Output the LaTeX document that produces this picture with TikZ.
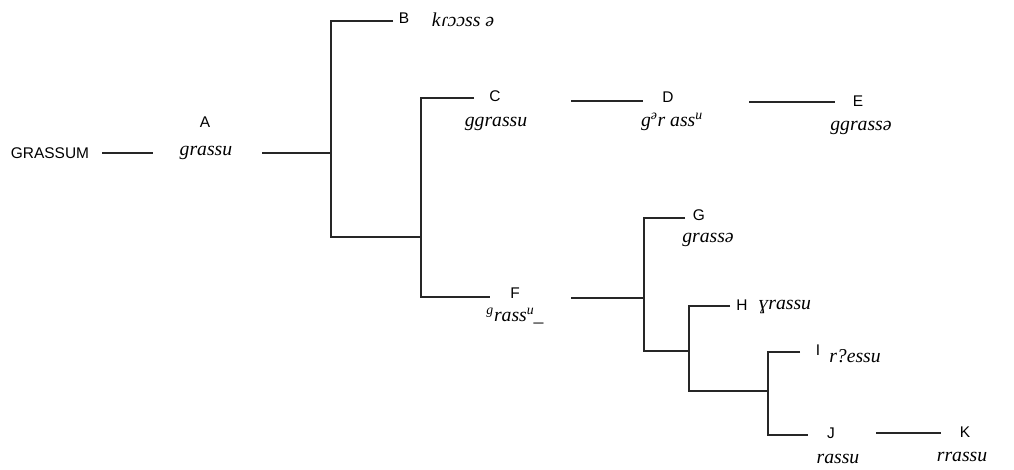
\documentclass[tikz,border=0pt]{standalone}
\usepackage{fontspec}
\setmainfont{Liberation Sans}
\newfontfamily\formfont{Liberation Serif}
\usetikzlibrary{positioning}
\tikzset{every picture/.style={line width=0.75pt}}

\begin{document}
\begin{tikzpicture}[
    x=0.025cm, y=-0.025cm,
    branch/.style={draw=black!85, line width=0.9pt},
    letter/.style={font=\fontsize{11}{13}\selectfont, inner sep=4pt},
    form/.style={font=\fontsize{14}{16}\selectfont\formfont\itshape, inner sep=2pt}
]
    \useasboundingbox (0,0) rectangle (1014,469);

    % Root
    \node[letter, inner sep=2pt] (grassum) at (50,153) {GRASSUM};
    \node[letter] (A) at (205,122) {A};
    \node[form] (Aform) at (206,153) {grassu};
    \coordinate (jA) at (331,153);
    \coordinate (jAF) at (421,237);

    % B
    \node[letter] (B) at (404,18) {B};
    \node[form] (Bform) at (463,20) {kɾɔɔss ə};

    % C -- D -- E
    \node[letter] (C) at (495,96) {C};
    \node[form] (Cform) at (496,124) {ggrassu};
    \node[letter] (D) at (668,97) {D};
    \node[form] (Dform) at (672,122) {g\textsuperscript{ə}r ass\textsuperscript{u}};
    \node[letter] (E) at (858,101) {E};
    \node[form] (Eform) at (861,128) {ggrassə};

    % F
    \node[letter] (F) at (515,293) {F};
    \node[form] (Fform) at (515,316) {\textsuperscript{g}rass\textsuperscript{u}\kern-0.5pt\_};
    \coordinate (jF) at (644,298);
    \coordinate (jFH) at (689,351);
    \coordinate (jHJ) at (768,391);

    % G, H, I, J, K
    \node[letter] (G) at (699,215) {G};
    \node[form] (Gform) at (708,240) {grassə};
    \node[letter] (H) at (742,305) {H};
    \node[form] (Hform) at (785,307) {ɣrassu};
    \node[letter] (I) at (818,350) {I};
    \node[form] (Iform) at (855,356) {r?essu};
    \node[letter] (J) at (831,433) {J};
    \node[form] (Jform) at (838,459) {rassu};
    \node[letter] (K) at (965,432) {K};
    \node[form] (Kform) at (962,457) {rrassu};

    % Branches
    \draw[branch] (grassum.east) ++(10,0) -- (153,153);
    \draw[branch] (262,153) -- (jA);
    \draw[branch] (393,21) -| (jA) |- (jAF);
    \draw[branch] (474,98) -| (jAF) |- (490,297);
    \draw[branch] (571,101) -- (643,101);
    \draw[branch] (749,102) -- (835,102);
    \draw[branch] (571,298) -- (jF);
    \draw[branch] (685,218) -| (jF) |- (jFH);
    \draw[branch] (730,306) -| (jFH) |- (jHJ);
    \draw[branch] (800,352) -| (jHJ) |- (808,435);
    \draw[branch] (876,433) -- (941,433);
\end{tikzpicture}
\end{document}
